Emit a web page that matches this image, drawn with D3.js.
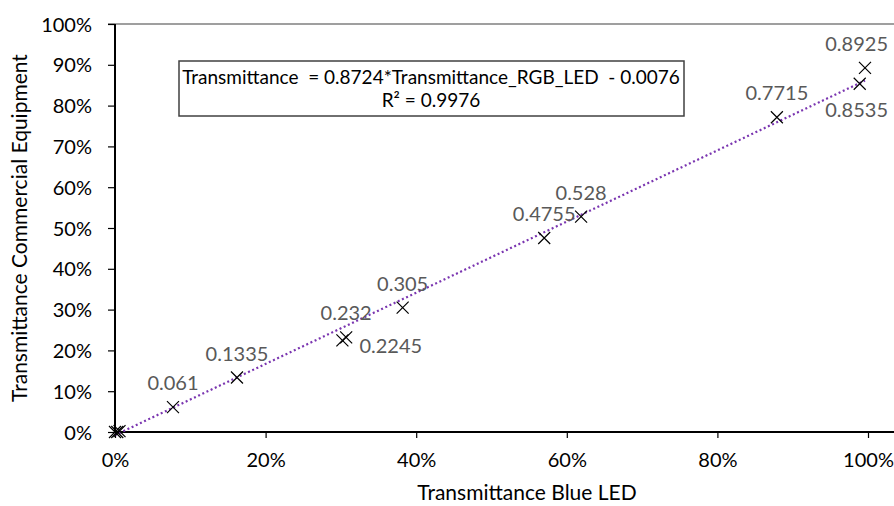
<!DOCTYPE html>
<html>
<head>
<meta charset="utf-8">
<script src="https://cdnjs.cloudflare.com/ajax/libs/d3/7.8.5/d3.min.js"></script>
<style>
  body { margin: 0; background: #fff; }
  svg text { font-family: Lato, "Open Sans", sans-serif; }
  .eq { white-space: pre; }
</style>
</head>
<body>
<svg id="chart" width="894" height="506"></svg>
<script>
// measured points (x = blue LED, y = commercial equipment)
const blueLed = [0, 0.003, 0.006, 0.077, 0.162, 0.302, 0.307, 0.382, 0.570, 0.619, 0.879, 0.989, 0.996];
const commercial = [0, 0, 0.002, 0.061, 0.1335, 0.2245, 0.232, 0.305, 0.4755, 0.528, 0.7715, 0.8535, 0.8925];
const labels = ["", "", "", "0.061", "0.1335", "0.2245", "0.232", "0.305", "0.4755", "0.528", "0.7715", "0.8535", "0.8925"];
const labelPlace = ["", "", "", "above", "above", "right", "above", "above", "above", "above", "above", "below", "above"];

const xTicks = [0, 0.2, 0.4, 0.6, 0.8, 1.0];
const yTicks = [0, 0.1, 0.2, 0.3, 0.4, 0.5, 0.6, 0.7, 0.8, 0.9, 1.0];

// linear trendline
const slope = 0.8724, intercept = -0.0076;
const trendRange = [0, 0.996];
const eqLines = ["Transmittance  = 0.8724*Transmittance_RGB_LED  - 0.0076", "R\u00B2 = 0.9976"];

var svg = d3.select("#chart");
var W = 894;
var mLeft = 115, mRight = 868, mTop = 24, mBottom = 432;

var x = d3.scaleLinear().domain([0, 1]).range([mLeft, mRight]);
var y = d3.scaleLinear().domain([0, 1]).range([mBottom, mTop]);
var pct = d3.format(".0%");

// top border line
svg.append("line")
  .attr("x1", mLeft - 7).attr("x2", W)
  .attr("y1", mTop).attr("y2", mTop)
  .attr("stroke", "#404040").attr("stroke-width", 1.2);

// y axis
var gy = svg.append("g")
  .attr("transform", "translate(" + mLeft + ",0)")
  .call(d3.axisLeft(y).tickValues(yTicks).tickFormat(pct).tickSize(7).tickPadding(16));
gy.select(".domain").remove();
gy.append("line").attr("x1", 0).attr("x2", 0).attr("y1", mTop).attr("y2", mBottom + 1)
  .attr("stroke", "#000").attr("stroke-width", 2);
gy.selectAll(".tick line").attr("stroke", "#000").attr("stroke-width", 1.2);
gy.selectAll(".tick text").attr("font-size", "20px").attr("fill", "#000").attr("dy", "0.35em");

// x axis
var gx = svg.append("g")
  .attr("transform", "translate(0," + mBottom + ")")
  .call(d3.axisBottom(x).tickValues(xTicks).tickFormat(pct).tickSize(6).tickPadding(15));
gx.select(".domain").remove();
gx.append("line").attr("x1", mLeft - 1).attr("x2", W).attr("y1", 0).attr("y2", 0)
  .attr("stroke", "#000").attr("stroke-width", 2);
gx.selectAll(".tick line").attr("stroke", "#000").attr("stroke-width", 1.2);
gx.selectAll(".tick text").attr("font-size", "20px").attr("fill", "#000");

// axis titles
svg.append("text")
  .attr("x", 527).attr("y", 500)
  .attr("text-anchor", "middle")
  .attr("font-size", "21px")
  .text("Transmittance Blue LED");

svg.append("text")
  .attr("transform", "translate(27,228) rotate(-90)")
  .attr("text-anchor", "middle")
  .attr("font-size", "21px")
  .text("Transmittance Commercial Equipment");

// trendline
svg.append("line")
  .attr("x1", x(trendRange[0])).attr("y1", y(slope * trendRange[0] + intercept))
  .attr("x2", x(trendRange[1])).attr("y2", y(slope * trendRange[1] + intercept))
  .attr("stroke", "#7a35b0")
  .attr("stroke-width", 2.2)
  .attr("stroke-dasharray", "2,2.6");

// markers
var pts = blueLed.map(function(d, i) { return {x: d, y: commercial[i], label: labels[i], place: labelPlace[i]}; });
var s = 6;
svg.selectAll(".mark")
  .data(pts)
  .enter().append("path")
  .attr("class", "mark")
  .attr("d", function(d) {
    var cx = x(d.x), cy = y(d.y);
    return "M" + (cx - s) + "," + (cy - s) + "L" + (cx + s) + "," + (cy + s) +
           "M" + (cx - s) + "," + (cy + s) + "L" + (cx + s) + "," + (cy - s);
  })
  .attr("stroke", "#000")
  .attr("stroke-width", 1.2)
  .attr("fill", "none");

// data labels
var lbl = svg.selectAll(".lbl")
  .data(pts.filter(function(d) { return d.label; }))
  .enter().append("text")
  .attr("class", "lbl")
  .attr("x", function(d) { return d.place == "right" ? x(d.x) + 17 : x(d.x); })
  .attr("y", function(d) {
    if (d.place == "below") return y(d.y) + 26;
    if (d.place == "right") return y(d.y) + 6;
    return y(d.y) - 24;
  })
  .attr("dy", "0.35em")
  .attr("text-anchor", function(d) { return d.place == "right" ? "start" : "middle"; })
  .attr("font-size", "20px")
  .attr("fill", "#595959")
  .text(function(d) { return d.label; });

// keep labels inside the chart's right edge
lbl.each(function(d) {
  if (d.place == "right") return;
  var half = this.getComputedTextLength() / 2;
  var cx = +d3.select(this).attr("x");
  if (cx + half > W - 6) d3.select(this).attr("x", W - 6 - half);
});

// equation box
svg.append("rect")
  .attr("x", 179).attr("y", 61)
  .attr("width", 505).attr("height", 55)
  .attr("fill", "#fff")
  .attr("stroke", "#404040")
  .attr("stroke-width", 1.5);

svg.selectAll(".eq")
  .data(eqLines)
  .enter().append("text")
  .attr("class", "eq")
  .attr("x", 431)
  .attr("y", function(d, i) { return 77 + i * 23; })
  .attr("dy", "0.35em")
  .attr("text-anchor", "middle")
  .attr("font-size", "19px")
  .attr("fill", "#000")
  .text(function(d) { return d; });
</script>
</body>
</html>
